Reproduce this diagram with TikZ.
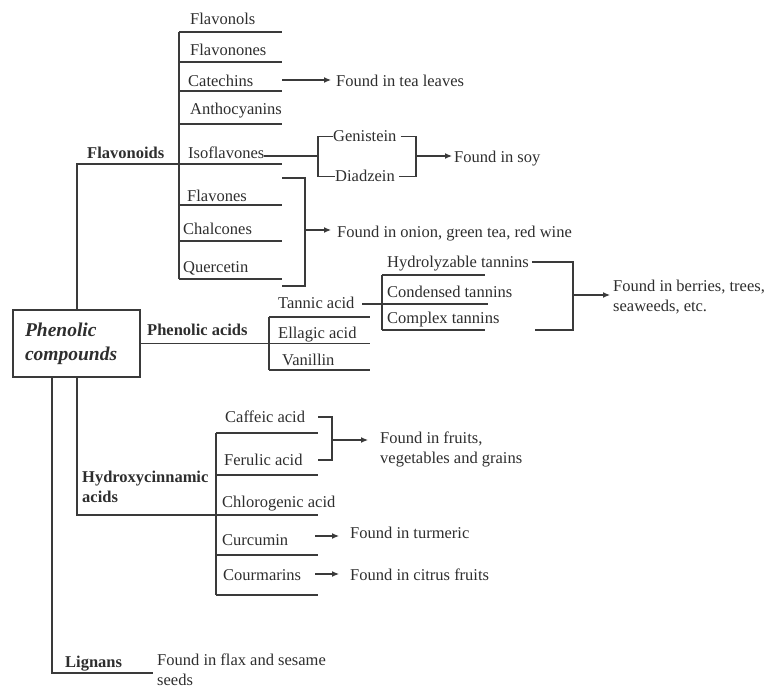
\documentclass[tikz,border=0pt]{standalone}
\usepackage{fontspec}
\setmainfont{Liberation Serif}
\usetikzlibrary{arrows.meta}
\definecolor{linec}{HTML}{3A3A3A}
\definecolor{txtc}{HTML}{2E2E2E}
\begin{document}
\begin{tikzpicture}[x=1pt,y=-1pt,
  ln/.style={line width=1.2pt, draw=linec},
  arr/.style={ln,-{Latex[length=7pt,width=6pt]}},
  lbl/.style={anchor=base west, inner sep=0pt, text=txtc, font=\fontsize{16.5}{20}\selectfont},
  blbl/.style={lbl, font=\fontsize{16.5}{20}\selectfont\bfseries},
  ml/.style={anchor=west, inner sep=0pt, text=txtc, align=left, font=\fontsize{16.5}{20}\selectfont},
  bml/.style={ml, font=\fontsize{16.5}{20}\selectfont\bfseries},
]
\useasboundingbox (0,0) rectangle (769,690);

% root box
\node[draw=linec, line width=1.2pt, minimum width=127pt, minimum height=67pt,
      inner xsep=12pt, text width=103pt, align=left, text=txtc,
      font=\fontsize{19.5}{24}\selectfont\bfseries\itshape] (root) at (76.5,343.5) {Phenolic\\compounds};

% ---------------- Flavonoids ----------------
\coordinate (fvj) at (77,164);
\coordinate (fvu) at (282,164);
\coordinate (fvt) at (179,32);
\coordinate (fvb) at (179,279);
\draw[ln] (root.north -| fvj) -- (fvj) -- (fvu);
\draw[ln] (fvt) -- (fvb);
\foreach \yy in {32,62,91,124,205,241,279} \draw[ln] (179,\yy) -- (282,\yy);
\node[blbl] (flavonoids) at (87,159) {Flavonoids};
\node[lbl] (flavonols) at (190,25) {Flavonols};
\node[lbl] (flavonones) at (190,56) {Flavonones};
\node[lbl] (catechins) at (188,87) {Catechins};
\node[lbl] (antho) at (190,115) {Anthocyanins};
\node[lbl] (iso) at (188,159) {Isoflavones};
\node[lbl] (flavones) at (187,201) {Flavones};
\node[lbl] (chalcones) at (183,234) {Chalcones};
\node[lbl] (quercetin) at (183,272) {Quercetin};

% catechins -> tea
\node[lbl] (tea) at (336,87) {Found in tea leaves};
\coordinate (cata) at (282,80);
\draw[arr, shorten >=5pt] (cata) -- (cata -| tea.west);

% isoflavones
\coordinate (isoj) at (318,156);
\node[lbl] (gen) at (333,142) {Genistein};
\node[lbl] (dia) at (335,182) {Diadzein};
\draw[ln] (iso.east |- isoj) -- (isoj);
\draw[ln] (gen.west) -- (gen.west -| isoj) -- (dia.west -| isoj) -- (dia.west);
\coordinate (sb) at (416,156);
\draw[ln] ([xshift=4pt]gen.east) -- (gen.east -| sb) -- (dia.east -| sb) -- ([xshift=4pt]dia.east);
\node[lbl] (soy) at (454,163) {Found in soy};
\draw[arr, shorten >=2pt] (sb) -- (sb -| soy.west);

% flavones bracket
\coordinate (fbt) at (282,178);
\coordinate (fbtr) at (305,178);
\coordinate (fbbr) at (305,286);
\coordinate (fbb) at (282,286);
\coordinate (fbj) at (305,230);
\draw[ln] (fbt) -- (fbtr) -- (fbbr) -- (fbb);
\node[lbl] (onion) at (337,237) {Found in onion, green tea, red wine};
\draw[arr, shorten >=6pt] (fbj) -- (fbj -| onion.west);

% ---------------- Phenolic acids ----------------
\coordinate (pae) at (370,343.5);
\coordinate (pat) at (269,317);
\coordinate (pab) at (269,370);
\draw[ln] (root.east) -- (pae);
\draw[ln] (pat) -- (pab);
\draw[ln] (pat) -- (370,317);
\draw[ln] (pab) -- (370,370);
\node[blbl] (pacids) at (147,335) {Phenolic acids};
\node[lbl] (tannic) at (278,308) {Tannic acid};
\node[lbl] (ellagic) at (278,338) {Ellagic acid};
\node[lbl] (vanillin) at (282,365) {Vanillin};

% tannins
\coordinate (tl) at (362,304);
\coordinate (tvt) at (382,275);
\coordinate (tvm) at (382,304);
\coordinate (tvb) at (382,330);
\draw[ln] (tvt) -- (tvb);
\draw[ln] (tvt) -- (485,275);
\draw[ln] (tl) -- (tvm) -- (488,304);
\draw[ln] (tvb) -- (485,330);
\node[lbl] (hyd) at (387,267) {Hydrolyzable tannins};
\node[lbl] (cond) at (387,297) {Condensed tannins};
\node[lbl] (compl) at (387,323) {Complex tannins};
\coordinate (tbt) at (573,262);
\coordinate (tbb) at (573,330);
\coordinate (tbl) at (535,330);
\coordinate (tbj) at (573,295);
\draw[ln] ([xshift=3pt]hyd.east |- tbt) -- (tbt) -- (tbb) -- (tbl);
\node[ml] (ber) at (613,297) {Found in berries, trees,\\seaweeds, etc.};
\draw[arr, shorten >=3pt] (tbj) -- (tbj -| ber.west);

% ---------------- Hydroxycinnamic acids ----------------
\coordinate (hcj) at (77,515);
\coordinate (hce) at (318,515);
\draw[ln] (root.south -| hcj) -- (hcj) -- (hce);
\node[bml] (hca) at (82,487) {Hydroxycinnamic\\acids};
\coordinate (hvt) at (216,433);
\coordinate (hvb) at (216,595);
\draw[ln] (hvt) -- (hvb);
\foreach \yy in {433,475,555,595} \draw[ln] (216,\yy) -- (318,\yy);
\node[lbl] (caffeic) at (225,422) {Caffeic acid};
\node[lbl] (ferulic) at (224,465) {Ferulic acid};
\node[lbl] (chloro) at (222,507) {Chlorogenic acid};
\node[lbl] (curcumin) at (222,545) {Curcumin};
\node[lbl] (courm) at (223,580) {Courmarins};

\coordinate (cbt) at (318,417);
\coordinate (cbtr) at (332,417);
\coordinate (cbbr) at (332,460);
\coordinate (cbb) at (318,460);
\coordinate (cbj) at (332,440);
\draw[ln] (cbt) -- (cbtr) -- (cbbr) -- (cbb);
\node[ml] (fruits) at (380,449) {Found in fruits,\\vegetables and grains};
\draw[arr, shorten >=12pt] (cbj) -- (cbj -| fruits.west);

\coordinate (cua) at (315,536);
\node[lbl] (turm) at (350,538) {Found in turmeric};
\draw[arr, shorten >=11pt] (cua) -- (cua -| turm.west);
\coordinate (coa) at (315,574);
\node[lbl] (citrus) at (350,580) {Found in citrus fruits};
\draw[arr, shorten >=11pt] (coa) -- (coa -| citrus.west);

% ---------------- Lignans ----------------
\coordinate (lgj) at (52,673);
\coordinate (lge) at (153,673);
\draw[ln] (root.south -| lgj) -- (lgj) -- (lge);
\node[blbl] (lignans) at (65,667) {Lignans};
\node[ml] (flax) at (157,670) {Found in flax and sesame\\seeds};
\end{tikzpicture}
\end{document}
